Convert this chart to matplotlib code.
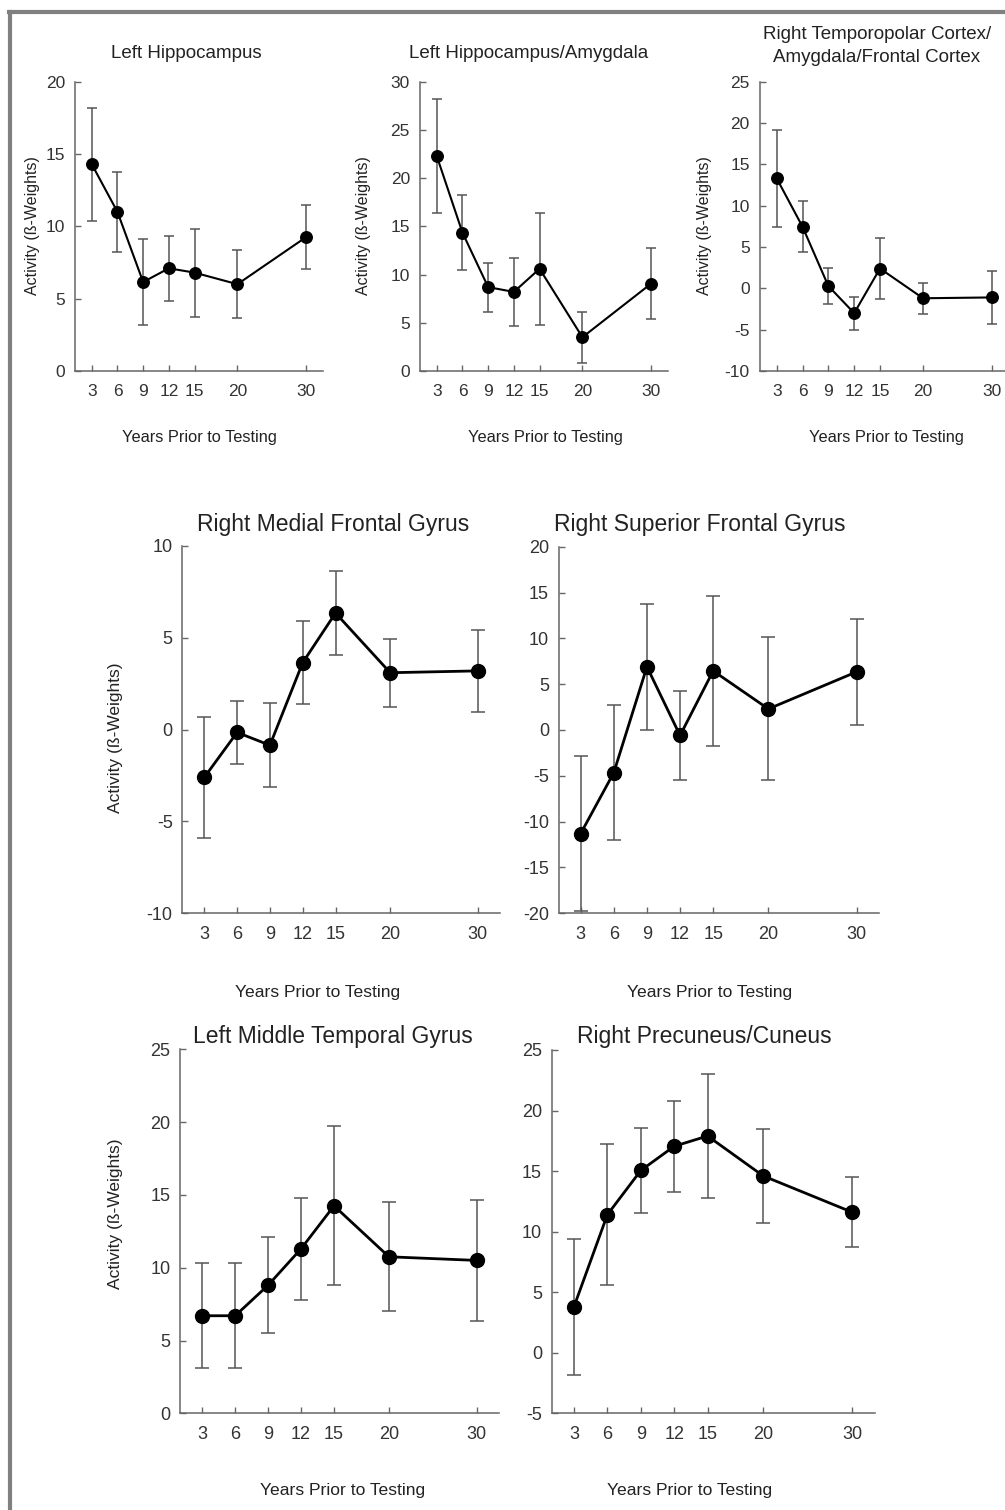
import matplotlib
matplotlib.use('Agg')
import matplotlib.pyplot as plt
from matplotlib.lines import Line2D

plt.rcParams['font.family'] = ['Liberation Sans', 'DejaVu Sans']
plt.rcParams['axes.unicode_minus'] = False  # plain hyphen like the original

W, H = 1005, 1510

# years prior to testing; 30 is drawn at 28 like in the original figure
years = ['3', '6', '9', '12', '15', '20', '30']
x_pos = [3, 6, 9, 12, 15, 20, 28]

# beta weights (means) and error bars
left_hipp = [14.3, 11.0, 6.15, 7.1, 6.8, 6.0, 9.25]
left_hipp_err = [3.9, 2.75, 2.95, 2.25, 3.05, 2.35, 2.2]

left_hipp_amy = [22.3, 14.35, 8.7, 8.2, 10.6, 3.5, 9.05]
left_hipp_amy_err = [5.9, 3.85, 2.55, 3.5, 5.8, 2.65, 3.7]

right_tempopolar = [13.3, 7.45, 0.28, -3.0, 2.4, -1.2, -1.1]
right_tempopolar_err = [5.9, 3.1, 2.2, 2.0, 3.65, 1.9, 3.2]

right_med_frontal = [-2.6, -0.15, -0.85, 3.65, 6.35, 3.1, 3.2]
right_med_frontal_err = [3.3, 1.7, 2.3, 2.25, 2.3, 1.85, 2.25]

right_sup_frontal = [-11.3, -4.65, 6.9, -0.6, 6.45, 2.3, 6.35]
right_sup_frontal_err = [8.5, 7.4, 6.9, 4.9, 8.2, 7.8, 5.8]

left_mid_temporal = [6.7, 6.7, 8.8, 11.3, 14.25, 10.75, 10.5]
left_mid_temporal_err = [3.6, 3.6, 3.3, 3.5, 5.45, 3.75, 4.15]

right_precuneus = [3.8, 11.4, 15.05, 17.05, 17.9, 14.6, 11.6]
right_precuneus_err = [5.6, 5.8, 3.5, 3.75, 5.1, 3.9, 2.9]

titles = ['Left Hippocampus', 'Left Hippocampus/Amygdala',
          'Right Temporopolar Cortex/\nAmygdala/Frontal Cortex',
          'Right Medial Frontal Gyrus', 'Right Superior Frontal Gyrus',
          'Left Middle Temporal Gyrus', 'Right Precuneus/Cuneus']
ylab = 'Activity (ß-Weights)'
xlab = 'Years Prior to Testing'

fig = plt.figure(figsize=(W / 100, H / 100), dpi=100)


def fx(x):
    return x / W


def fy(y):
    return 1 - y / H


def panel(box, vals, errs, ylim, ystep, big):
    l, t, r, b = box
    ax = fig.add_axes([fx(l), fy(b), (r - l) / W, (b - t) / H])
    ms, lw, cap, tfs = (10, 2.0, 4.7, 13) if big else (8.3, 1.5, 3.6, 12.5)
    ax.errorbar(x_pos, vals, yerr=errs, fmt='none', ecolor='#555555',
                elinewidth=1.1, capsize=cap, capthick=1.1, zorder=2)
    ax.plot(x_pos, vals, color='black', lw=lw, marker='o', ms=ms,
            mfc='black', mec='black', zorder=3)
    ax.set_xlim(1, 30)
    ax.set_ylim(*ylim)
    ax.set_xticks(x_pos)
    ax.set_xticklabels(years)
    ax.set_yticks(range(ylim[0], ylim[1] + 1, ystep))
    for s in ['top', 'right']:
        ax.spines[s].set_visible(False)
    for s in ['left', 'bottom']:
        ax.spines[s].set_color('#666666')
        ax.spines[s].set_linewidth(1.1)
    ax.tick_params(direction='in', length=4, width=1, color='#666666',
                   labelsize=tfs, labelcolor='#333333')
    ax.tick_params(axis='x', pad=9)
    ax.tick_params(axis='y', pad=7)
    ax.patch.set_alpha(0)
    return ax


# top row
panel((74.6, 81.7, 323.1, 371), left_hipp, left_hipp_err, (0, 20), 5, False)
panel((419.6, 81.7, 668.1, 371), left_hipp_amy, left_hipp_amy_err, (0, 30), 5, False)
panel((759.5, 81.7, 1009.1, 371), right_tempopolar, right_tempopolar_err, (-10, 25), 5, False)
# middle row
panel((182.4, 546, 499.6, 913.3), right_med_frontal, right_med_frontal_err, (-10, 10), 5, True)
panel((558.6, 546.7, 878.8, 913.3), right_sup_frontal, right_sup_frontal_err, (-20, 20), 5, True)
# bottom row
panel((180.3, 1049.3, 498.7, 1413.3), left_mid_temporal, left_mid_temporal_err, (0, 25), 5, True)
panel((551.7, 1050, 874.6, 1413.3), right_precuneus, right_precuneus_err, (-5, 25), 5, True)

# titles
small_t = dict(fontsize=13.5, color='#222222', ha='center', va='center')
big_t = dict(fontsize=16.5, color='#222222', ha='center', va='center')
fig.text(fx(186), fy(53), titles[0], **small_t)
fig.text(fx(529), fy(54), titles[1], **small_t)
fig.text(fx(877), fy(46), titles[2], linespacing=1.45, **small_t)
fig.text(fx(333), fy(525), titles[3], **big_t)
fig.text(fx(700), fy(525), titles[4], **big_t)
fig.text(fx(333), fy(1037), titles[5], **big_t)
fig.text(fx(704), fy(1036), titles[6], **big_t)

# axis labels
lab = dict(color='#222222', ha='center', va='center')
for x, y in [(33, 226), (363, 226), (704, 226)]:
    fig.text(fx(x), fy(y), ylab, rotation=90, fontsize=11.5, **lab)
for x, y in [(115, 738), (115, 1214)]:
    fig.text(fx(x), fy(y), ylab, rotation=90, fontsize=12.5, **lab)
for x, y in [(199, 437), (545, 437), (886, 437)]:
    fig.text(fx(x), fy(y), xlab, fontsize=11.8, **lab)
for x, y in [(318, 993), (710, 993), (343, 1490), (690, 1490)]:
    fig.text(fx(x), fy(y), xlab, fontsize=12.6, **lab)

# grey frame on the left and top edges of the scanned page
fig.add_artist(Line2D([fx(10), fx(10)], [fy(12), 0], color='#808080', lw=3))
fig.add_artist(Line2D([fx(8.9), 1], [fy(12), fy(12)], color='#808080', lw=3))

fig.savefig('out.png', dpi=100, facecolor='white')
